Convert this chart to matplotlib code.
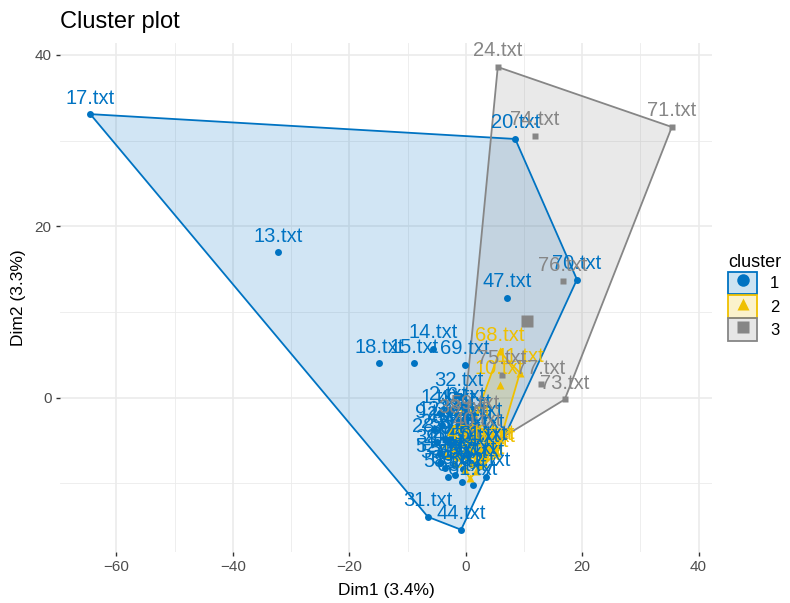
import matplotlib

matplotlib.use("Agg")
import matplotlib.pyplot as plt
from matplotlib.lines import Line2D
from matplotlib.patches import Patch, Polygon
from matplotlib.ticker import MultipleLocator

plt.rcParams["font.family"] = ["Liberation Sans", "DejaVu Sans"]

# cluster 1 (blue)
c1_names = ["17", "20", "70", "13", "47", "14", "18", "15", "69", "32", "31", "44",
            "1", "2", "4", "6", "7",
            "9", "12", "21", "22", "25", "26",
            "28", "29", "30", "34", "35", "37",
            "39", "42", "43", "48", "50", "51",
            "52", "53", "54", "55", "56", "57",
            "58", "60", "63", "61", "62"]
c1_x = [-64.5, 8.5, 19.1, -32.2, 7.1, -5.6, -14.9, -8.9, -0.1, -1.1, -6.5, -0.8,
        -4.5, -3.0, -1.5, 0.0, 1.0,
        -5.5, -4.0, -2.5, -1.0, 0.5, 2.0,
        -5.0, -3.5, -2.0, -0.5, 1.0, 2.5,
        -4.5, -3.0, -1.5, 0.0, 1.5, 3.0,
        -4.4, -3.5, -2.0, -0.5, 1.0, 2.5,
        -3.0, -1.8, -0.7, 1.2, 3.5]
c1_y = [33.1, 30.2, 13.8, 17.0, 11.7, 5.7, 4.0, 4.0, 3.85, 0.2, -13.9, -15.4,
        -1.8, -1.5, -2.0, -1.6, -2.4,
        -3.6, -3.2, -3.8, -3.4, -3.9, -3.3,
        -5.2, -4.8, -5.4, -4.9, -5.3, -4.7,
        -6.5, -6.9, -6.3, -6.8, -6.4, -6.1,
        -7.6, -8.2, -7.9, -8.3, -7.8, -8.0,
        -9.3, -9.0, -9.8, -10.2, -9.2]

# cluster 2 (yellow)
c2_names = ["68", "10", "11", "3", "5", "8", "16", "19", "23", "27", "33",
            "36", "41", "45", "49"]
c2_x = [5.8, 5.8, 9.3, 1.0, 5.3, 0.7, -0.2, 1.8, 3.0, 1.5, 4.2, 2.5, 3.8, 2.5, 1.0]
c2_y = [5.4, 1.5, 2.9, -3.5, -6.4, -9.4, -8.4, -8.5, -7.0, -7.5, -6.0, -7.8, -6.2,
        -6.5, -6.0]

# cluster 3 (grey)
c3_names = ["24", "71", "74", "76", "75", "77", "73", "46", "38", "40", "59"]
c3_x = [5.5, 35.4, 11.9, 16.7, 6.2, 12.9, 17.0, 3.0, -0.4, 2.0, 1.5]
c3_y = [38.6, 31.6, 30.6, 13.6, 2.7, 1.6, -0.2, -6.0, -3.0, -4.5, -2.5]

# cluster centres
center_x = [-2.3, 2.9, 10.5]
center_y = [-5.0, -6.6, 9.0]

colors = ["#0073C2", "#EFC000", "#868686"]
markers = ["o", "^", "s"]
msizes = [5, 6, 4.6]


def convex_hull(xs, ys):
    pts = sorted(set(zip(xs, ys)))

    def cross(o, a, b):
        return (a[0] - o[0]) * (b[1] - o[1]) - (a[1] - o[1]) * (b[0] - o[0])

    lower, upper = [], []
    for p in pts:
        while len(lower) >= 2 and cross(lower[-2], lower[-1], p) <= 0:
            lower.pop()
        lower.append(p)
    for p in reversed(pts):
        while len(upper) >= 2 and cross(upper[-2], upper[-1], p) <= 0:
            upper.pop()
        upper.append(p)
    return lower[:-1] + upper[:-1]


clusters = [(c1_names, c1_x, c1_y), (c2_names, c2_x, c2_y), (c3_names, c3_x, c3_y)]

fig = plt.figure(figsize=(7.9, 6.03), dpi=100)
ax = fig.add_axes([60 / 790, 1 - 552 / 603, (712 - 60) / 790, (552 - 43) / 603])

for (names, xs, ys), col in zip(clusters, colors):
    h = convex_hull(xs, ys)
    ax.add_patch(Polygon(h, closed=True, facecolor=col, alpha=0.18, edgecolor="none", zorder=2))
    ax.add_patch(Polygon(h, closed=True, facecolor="none", edgecolor=col, lw=1.3, zorder=3))

for (names, xs, ys), col, m, ms in zip(clusters, colors, markers, msizes):
    ax.plot(xs, ys, ls="none", marker=m, ms=ms, color=col, mec="none", zorder=4)

# labels drawn in file order, so the colours interleave like the original
rows = []
for (names, xs, ys), col in zip(clusters, colors):
    rows += [(int(n), x, y, col) for n, x, y in zip(names, xs, ys)]
for n, x, y, col in sorted(rows):
    ax.annotate(f"{n}.txt", (x, y), xytext=(0, 16), textcoords="offset pixels",
                ha="center", va="center", fontsize=14.5, color=col, zorder=5)

for cx, cy, col, m in zip(center_x, center_y, colors, markers):
    ax.plot(cx, cy, ls="none", marker=m, ms=9, color=col, mec="none", zorder=4)

ax.set_xlim(-69.7, 42.3)
ax.set_ylim(-18.0, 41.4)
ax.xaxis.set_major_locator(MultipleLocator(20))
ax.xaxis.set_minor_locator(MultipleLocator(10))
ax.yaxis.set_major_locator(MultipleLocator(20))
ax.yaxis.set_minor_locator(MultipleLocator(10))
ax.grid(which="major", color="#EBEBEB", lw=1.2, zorder=0)
ax.grid(which="minor", color="#EBEBEB", lw=0.6, zorder=0)
ax.set_axisbelow(True)
for s in ax.spines.values():
    s.set_visible(False)
ax.tick_params(which="major", length=3, width=1, color="#333333",
               labelsize=11, labelcolor="#4D4D4D", pad=3)
ax.tick_params(which="minor", length=0)

ax.set_xlabel("Dim1 (3.4%)", fontsize=12.5, labelpad=6)
ax.set_ylabel("Dim2 (3.3%)", fontsize=12.5, labelpad=6)
ax.set_title("Cluster plot", loc="left", fontsize=17, pad=11)

handles = []
for col, m in zip(colors, markers):
    box = Patch(facecolor=(*matplotlib.colors.to_rgb(col), 0.2), edgecolor=col, lw=1.3)
    mk = Line2D([], [], ls="none", marker=m, ms=9, color=col, mec="none")
    handles.append((box, mk))
leg = ax.legend(handles, ["1", "2", "3"], title="cluster", loc="center left",
                bbox_to_anchor=(1.015, 0.5), frameon=False, fontsize=12,
                title_fontsize=13, handlelength=1.7, handleheight=1.7,
                labelspacing=0.05, handletextpad=0.8, borderaxespad=0)
leg._legend_box.align = "left"

fig.savefig("out.png", dpi=100)
